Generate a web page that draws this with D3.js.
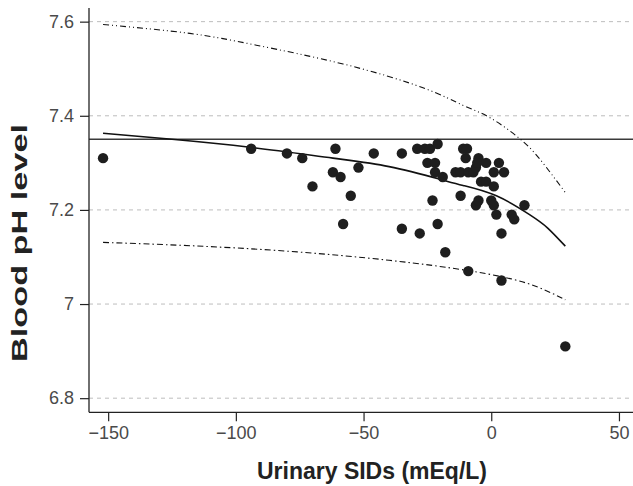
<!DOCTYPE html>
<html><head><meta charset="utf-8">
<script src="https://cdn.jsdelivr.net/npm/d3@7"></script>
<style>body{margin:0;background:#fff}svg{display:block}</style>
</head><body><svg id="c" width="633" height="486"></svg>
<script>
// Scatter points: urinary SID (mEq/L) and blood pH
const sid = [-152,-94,-80,-74,-70,-61,-62,-59,-55,-58,-52,-46,-35,-35,-29,-28,-26,-24,-21,-25,-22,-22,-19,-23,-21,-18,-14,-12,-12,-11,-9.5,-10,-9,-7,-6,-5,-5.5,-2,-4,-2,1,3,1,5,-6,-5,0,1,2,8,9,13,4,-9,4,29];
const ph  = [7.31,7.33,7.32,7.31,7.25,7.33,7.28,7.27,7.23,7.17,7.29,7.32,7.32,7.16,7.33,7.15,7.33,7.33,7.34,7.30,7.30,7.28,7.27,7.22,7.17,7.11,7.28,7.28,7.23,7.33,7.33,7.31,7.28,7.28,7.29,7.31,7.30,7.30,7.26,7.26,7.25,7.30,7.28,7.28,7.21,7.22,7.22,7.21,7.19,7.19,7.18,7.21,7.15,7.07,7.05,6.91];
// Fitted curve and prediction band
const fitX = [-152,-125,-94.5,-62,-40,-20,-11,2,15,22,29];
const fitY = [7.363,7.350,7.333,7.310,7.292,7.265,7.252,7.230,7.190,7.162,7.123];
const upX = [-152,-118,-92,-58,-27,-11,-0.5,11,19,29];
const upY = [7.594,7.575,7.550,7.510,7.460,7.422,7.396,7.352,7.308,7.237];
const loX = [-152,-118,-79,-40,-9,13.5,29];
const loY = [7.131,7.124,7.112,7.093,7.071,7.045,7.009];
const refPH = 7.35;
const xTicks = [-150,-100,-50,0,50];
const yTicks = [6.8,7.0,7.2,7.4,7.6];
const yTickLabels = ["6.8","7","7.2","7.4","7.6"];

const svg = d3.select("#c");
const x = d3.scaleLinear().domain([-157.5,55.5]).range([89,633]);
const y = d3.scaleLinear().domain([6.77,7.629]).range([412.3,8]);
const font = "'Liberation Sans', Arial, Helvetica, sans-serif";

// gridlines
svg.append("g").selectAll("line").data(yTicks).join("line")
  .attr("x1",89).attr("x2",633).attr("y1",d=>y(d)).attr("y2",d=>y(d))
  .attr("stroke","#bdbdbd").attr("stroke-width",1).attr("stroke-dasharray","4,4");

// reference line
svg.append("line").attr("x1",89).attr("x2",633).attr("y1",y(refPH)).attr("y2",y(refPH))
  .attr("stroke","#3a3a3a").attr("stroke-width",1.6);

const line = (xs,ys)=>d3.line().curve(d3.curveNatural).x((d,i)=>x(xs[i])).y((d,i)=>y(ys[i]))(xs);
svg.append("path").attr("d",line(upX,upY)).attr("fill","none").attr("stroke","#111")
  .attr("stroke-width",1.1).attr("stroke-dasharray","6,3,1,3,1,3");
svg.append("path").attr("d",line(loX,loY)).attr("fill","none").attr("stroke","#111")
  .attr("stroke-width",1.1).attr("stroke-dasharray","6,3,1.5,3");
svg.append("path").attr("d",line(fitX,fitY)).attr("fill","none").attr("stroke","#111")
  .attr("stroke-width",1.6);

// points
svg.append("g").selectAll("circle").data(sid).join("circle")
  .attr("cx",(d,i)=>x(sid[i])).attr("cy",(d,i)=>y(ph[i])).attr("r",5.2).attr("fill","#1e1e1e");

// axes
const xAxis = d3.axisBottom(x).tickValues(xTicks).tickSize(9).tickPadding(5)
  .tickFormat(d=>d<0?"\u2212"+Math.abs(d):String(d));
const gx = svg.append("g").attr("transform","translate(0,412.3)").call(xAxis);
gx.select(".domain").attr("d","M89,0H633").attr("stroke","#222").attr("stroke-width",1.3);
gx.selectAll(".tick line").attr("stroke","#222").attr("stroke-width",1.2);
gx.selectAll("text").attr("font-family",font).attr("font-size",18).attr("fill","#4a4a4a");

const yAxis = d3.axisLeft(y).tickValues(yTicks).tickSize(9).tickPadding(6)
  .tickFormat((d,i)=>yTickLabels[i]);
const gy = svg.append("g").attr("transform","translate(89,0)").call(yAxis);
gy.select(".domain").attr("d","M0,8V412.3").attr("stroke","#222").attr("stroke-width",1.3);
gy.selectAll(".tick line").attr("stroke","#222").attr("stroke-width",1.2);
gy.selectAll("text").attr("font-family",font).attr("font-size",18).attr("fill","#4a4a4a");

// titles
svg.append("text").attr("x",372).attr("y",479).attr("text-anchor","middle")
  .attr("font-family",font).attr("font-weight","bold").attr("font-size",23).attr("fill","#222")
  .text("Urinary SIDs (mEq/L)");
svg.append("text").attr("transform","translate(27,243) rotate(-90)").attr("text-anchor","middle")
  .attr("font-family",font).attr("font-weight","bold").attr("font-size",22).attr("fill","#222")
  .attr("textLength",238).attr("lengthAdjust","spacingAndGlyphs")
  .text("Blood pH level");
</script></body></html>
